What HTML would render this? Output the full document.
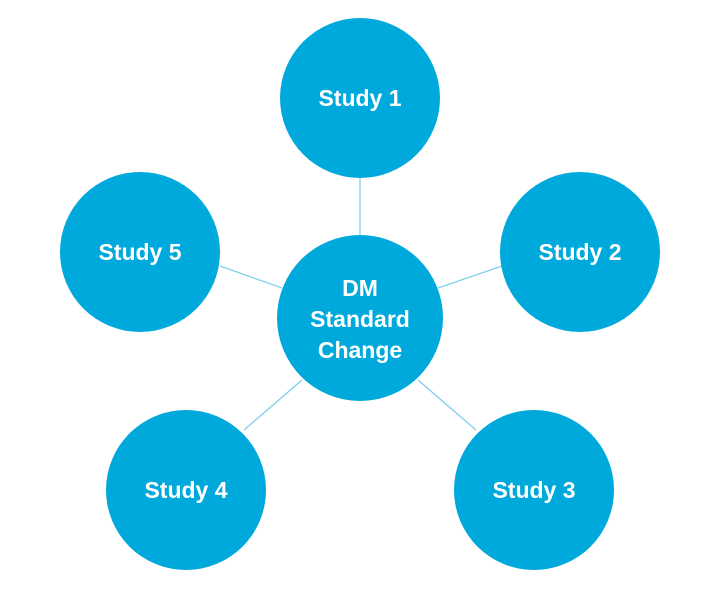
<!DOCTYPE html>
<html><head><style>body{margin:0;background:#fff}svg{display:block}</style></head><body>
<svg width="726" height="605" xmlns="http://www.w3.org/2000/svg">
<g stroke="#7fcfec" stroke-width="1.3">
<line x1="360" y1="178" x2="360" y2="236"/>
<line x1="220" y1="266" x2="282" y2="288"/>
<line x1="438" y1="288" x2="502" y2="266"/>
<line x1="302" y1="380" x2="244" y2="430"/>
<line x1="418" y1="380" x2="476" y2="430"/>
</g>
<g fill="#00a9dc">
<circle cx="360" cy="98" r="80"/>
<circle cx="140" cy="252" r="80"/>
<circle cx="580" cy="252" r="80"/>
<circle cx="186" cy="490" r="80"/>
<circle cx="534" cy="490" r="80"/>
<circle cx="360" cy="318" r="83"/>
</g>
<g fill="#fff" font-family="Liberation Sans, sans-serif" font-weight="bold" font-size="23" text-anchor="middle">
<text x="360" y="106">Study 1</text>
<text x="140" y="260">Study 5</text>
<text x="580" y="260">Study 2</text>
<text x="186" y="498">Study 4</text>
<text x="534" y="498">Study 3</text>
<text x="360" y="296">DM</text>
<text x="360" y="327">Standard</text>
<text x="360" y="358">Change</text>
</g>
</svg>
</body></html>
